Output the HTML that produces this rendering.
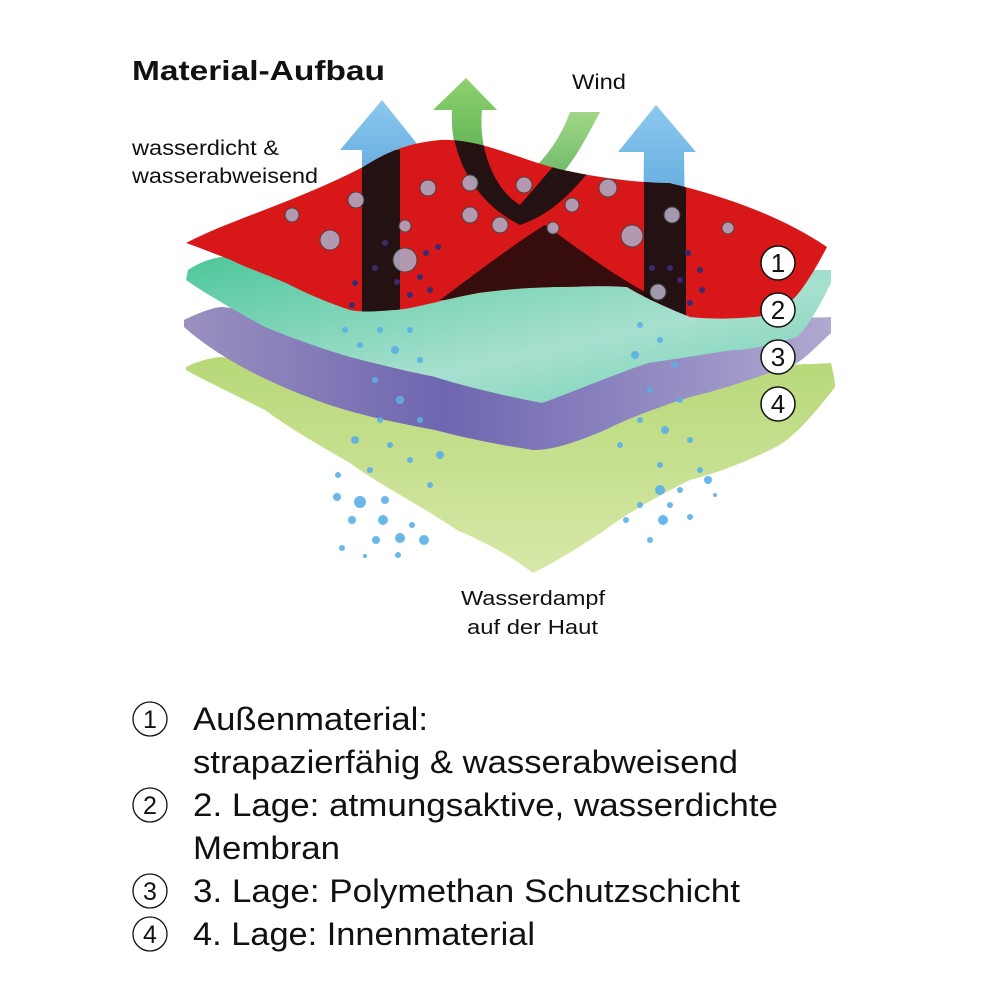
<!DOCTYPE html>
<html><head><meta charset="utf-8"><style>
body{margin:0;background:#fff;width:1000px;height:1000px;overflow:hidden;font-family:"Liberation Sans",Arial,sans-serif;}
</style></head><body>
<svg width="1000" height="1000" viewBox="0 0 1000 1000" xmlns="http://www.w3.org/2000/svg" font-family="Liberation Sans, Arial, sans-serif">
<defs>
<linearGradient id="gg" x1="0" y1="0" x2="0" y2="1"><stop offset="0" stop-color="#b8d878"/><stop offset="1" stop-color="#d6e8a8"/></linearGradient>
<linearGradient id="pg" x1="0" y1="0" x2="1" y2="0"><stop offset="0" stop-color="#9b90c0"/><stop offset="0.4" stop-color="#6e66b0"/><stop offset="1" stop-color="#b0a8d0"/></linearGradient>
<linearGradient id="tg" x1="0" y1="0" x2="1" y2="1"><stop offset="0" stop-color="#4ec79a"/><stop offset="0.6" stop-color="#a8e0d0"/><stop offset="1" stop-color="#6ad0b0"/></linearGradient>
<linearGradient id="bl" x1="0" y1="1" x2="0" y2="0"><stop offset="0" stop-color="#3a8fd0"/><stop offset="1" stop-color="#8cc8ee"/></linearGradient>
<linearGradient id="gr" x1="0" y1="1" x2="0" y2="0"><stop offset="0" stop-color="#3aa040"/><stop offset="1" stop-color="#90d070"/></linearGradient>
<clipPath id="rc"><path id="redp" d="M186,243 C230,220 300,200 363,167 C390,150 410,143 440,140 C480,138 520,160 563,170 C600,178 640,183 669,183 C720,195 780,215 827,247 C815,270 805,285 801,290 C790,305 775,315 754,317 C720,320 700,318 690,317 C660,305 640,295 627,287 C600,285 580,287 554,287 C520,288 500,290 478,293 C440,300 410,310 393,310 C370,312 360,312 350,310 C320,300 300,290 286,283 C260,272 240,265 231,260 C210,252 195,246 186,243 Z"/></clipPath>
</defs>

<text x="132" y="80" font-size="28" font-weight="bold" fill="#111" textLength="253" lengthAdjust="spacingAndGlyphs">Material-Aufbau</text>
<text x="572" y="89" font-size="21" fill="#111" textLength="54" lengthAdjust="spacingAndGlyphs">Wind</text>
<text x="132" y="155" font-size="21" fill="#111" textLength="147" lengthAdjust="spacingAndGlyphs">wasserdicht &amp;</text>
<text x="132" y="183" font-size="21" fill="#111" textLength="186" lengthAdjust="spacingAndGlyphs">wasserabweisend</text>

<!-- arrows -->
<path d="M600,112 C580,150 560,190 520,205 L505,190 C540,170 560,140 570,112 Z" fill="url(#gr)" opacity="0.85"/>
<path d="M340,150 L382,100 L422,150 L400,150 L400,260 L362,260 L362,150 Z" fill="url(#bl)"/>
<path d="M433,110 L466,78 L497,110 L482,110 C478,150 495,190 520,205 L495,215 C465,190 450,150 452,110 Z" fill="url(#gr)"/>
<path d="M618,152 L656,105 L696,152 L684,152 L686,300 L642,300 L644,152 Z" fill="url(#bl)"/>

<!-- green layer 4 -->
<path d="M186,367 C200,360 215,357 222,357 C300,370 400,365 500,362 C650,360 760,368 831,363 C833,372 835,380 835,387 C810,420 790,440 776,447 C740,465 710,475 690,480 C650,500 625,515 605,530 C575,550 550,565 533,573 C510,555 480,540 457,530 C420,505 380,485 350,463 C310,440 285,425 265,410 C225,390 200,378 186,370 Z" fill="url(#gg)"/>
<!-- purple layer 3 -->
<path d="M184,320 C200,312 215,307 222,307 C350,320 500,318 600,315 C700,312 780,320 831,317 L831,333 C815,348 805,358 797,363 C750,380 720,390 690,397 C650,410 625,420 605,430 C570,445 550,450 533,450 C500,445 465,438 435,430 C380,420 340,410 308,397 C250,375 210,350 184,327 Z" fill="url(#pg)"/>
<!-- teal layer 2 -->
<path d="M188,270 C200,262 212,258 222,257 C400,275 600,270 831,270 L831,283 C815,315 805,330 797,337 C770,345 750,350 733,350 C700,355 670,360 648,363 C600,380 565,395 542,403 C500,395 460,385 435,377 C400,370 370,362 350,357 C310,345 285,335 265,327 C225,305 200,290 186,280 Z" fill="url(#tg)"/>

<!-- red layer 1 -->
<use href="#redp" fill="#d81818"/>
<g clip-path="url(#rc)">
<path d="M362,150 L400,150 L400,320 L362,320 Z" fill="#111" opacity="0.9"/>
<path d="M644,150 L686,150 L686,320 L644,320 Z" fill="#111" opacity="0.9"/>
<path d="M452,110 L482,110 C478,150 495,190 520,205 L600,112 L610,140 C580,190 550,215 520,225 C470,200 450,150 452,110 Z" fill="#111" opacity="0.9"/>
<path d="M440,300 C480,270 520,240 545,225 C580,250 620,280 660,300 Z" fill="#1a0a0a" opacity="0.85"/>
</g>

<!-- bubbles on red -->
<g fill="#b0a8c0" stroke="#444" stroke-width="1" opacity="0.9">
<circle cx="292" cy="215" r="7"/><circle cx="330" cy="240" r="10"/><circle cx="356" cy="200" r="8"/><circle cx="405" cy="260" r="12"/><circle cx="428" cy="188" r="8"/><circle cx="470" cy="183" r="8"/><circle cx="524" cy="185" r="8"/><circle cx="470" cy="215" r="8"/><circle cx="500" cy="225" r="8"/><circle cx="572" cy="205" r="7"/><circle cx="608" cy="188" r="9"/><circle cx="632" cy="236" r="11"/><circle cx="672" cy="215" r="8"/><circle cx="728" cy="228" r="6"/><circle cx="553" cy="228" r="6"/><circle cx="405" cy="226" r="6"/><circle cx="658" cy="292" r="8"/>
</g>
<g fill="#3a2a70">
<circle cx="385" cy="243" r="3"/><circle cx="375" cy="268" r="3"/><circle cx="397" cy="282" r="3"/><circle cx="355" cy="283" r="3"/><circle cx="352" cy="305" r="3"/><circle cx="420" cy="277" r="3"/><circle cx="410" cy="295" r="3"/><circle cx="426" cy="253" r="3"/><circle cx="438" cy="247" r="3"/><circle cx="430" cy="290" r="3"/><circle cx="688" cy="253" r="3"/><circle cx="670" cy="268" r="3"/><circle cx="680" cy="280" r="3"/><circle cx="700" cy="270" r="3"/><circle cx="702" cy="290" r="3"/><circle cx="690" cy="303" r="3"/><circle cx="652" cy="268" r="3"/>
</g>
<!-- blue droplets -->
<g fill="#5ab0e8" opacity="0.9">
<circle cx="345" cy="330" r="3"/><circle cx="360" cy="345" r="3"/><circle cx="380" cy="330" r="3"/><circle cx="395" cy="350" r="4"/><circle cx="410" cy="330" r="3"/><circle cx="420" cy="360" r="3"/><circle cx="375" cy="380" r="3"/><circle cx="400" cy="400" r="4"/><circle cx="380" cy="420" r="3"/><circle cx="420" cy="420" r="3"/><circle cx="355" cy="440" r="4"/><circle cx="390" cy="445" r="3"/><circle cx="410" cy="460" r="3"/><circle cx="370" cy="470" r="3"/><circle cx="440" cy="455" r="4"/><circle cx="430" cy="485" r="3"/>
<circle cx="640" cy="325" r="3"/><circle cx="660" cy="340" r="3"/><circle cx="635" cy="355" r="4"/><circle cx="675" cy="365" r="3"/><circle cx="650" cy="390" r="3"/><circle cx="680" cy="400" r="3"/><circle cx="640" cy="420" r="3"/><circle cx="665" cy="430" r="4"/><circle cx="690" cy="440" r="3"/><circle cx="620" cy="445" r="3"/><circle cx="660" cy="465" r="3"/><circle cx="700" cy="470" r="3"/>
<circle cx="338" cy="475" r="3"/><circle cx="337" cy="497" r="4"/><circle cx="360" cy="502" r="6"/><circle cx="385" cy="500" r="4"/><circle cx="352" cy="520" r="4"/><circle cx="383" cy="520" r="5"/><circle cx="412" cy="525" r="3"/><circle cx="342" cy="548" r="3"/><circle cx="376" cy="540" r="4"/><circle cx="400" cy="538" r="5"/><circle cx="424" cy="540" r="5"/><circle cx="398" cy="555" r="3"/><circle cx="365" cy="556" r="2"/>
<circle cx="708" cy="480" r="4"/><circle cx="680" cy="490" r="3"/><circle cx="715" cy="495" r="2"/><circle cx="660" cy="490" r="5"/><circle cx="670" cy="505" r="3"/><circle cx="640" cy="505" r="3"/><circle cx="663" cy="520" r="5"/><circle cx="690" cy="517" r="3"/><circle cx="626" cy="520" r="3"/><circle cx="650" cy="540" r="3"/>
</g>

<!-- circled numbers -->
<g fill="#fff" stroke="#111" stroke-width="1.5">
<circle cx="778" cy="263" r="17"/><circle cx="778" cy="310" r="17"/><circle cx="778" cy="357" r="17"/><circle cx="778" cy="404" r="17"/>
</g>
<g font-size="26" fill="#111" text-anchor="middle">
<text x="778" y="272">1</text><text x="778" y="319">2</text><text x="778" y="366">3</text><text x="778" y="413">4</text>
</g>

<text x="461" y="605" font-size="20" fill="#111" textLength="144" lengthAdjust="spacingAndGlyphs">Wasserdampf</text>
<text x="467" y="634" font-size="20" fill="#111" textLength="131" lengthAdjust="spacingAndGlyphs">auf der Haut</text>

<!-- legend -->
<g fill="none" stroke="#111" stroke-width="1.3">
<circle cx="150" cy="719" r="17"/><circle cx="150" cy="805" r="17"/><circle cx="150" cy="891" r="17"/><circle cx="150" cy="934" r="17"/>
</g>
<g font-size="25" fill="#111" text-anchor="middle">
<text x="150" y="728">1</text><text x="150" y="814">2</text><text x="150" y="900">3</text><text x="150" y="943">4</text>
</g>
<g font-size="32" fill="#111" lengthAdjust="spacingAndGlyphs">
<text x="193" y="730" textLength="235" lengthAdjust="spacingAndGlyphs">Außenmaterial:</text>
<text x="193" y="773" textLength="545" lengthAdjust="spacingAndGlyphs">strapazierfähig &amp; wasserabweisend</text>
<text x="193" y="816" textLength="585" lengthAdjust="spacingAndGlyphs">2. Lage: atmungsaktive, wasserdichte</text>
<text x="193" y="859" textLength="147" lengthAdjust="spacingAndGlyphs">Membran</text>
<text x="193" y="902" textLength="547" lengthAdjust="spacingAndGlyphs">3. Lage: Polymethan Schutzschicht</text>
<text x="193" y="945" textLength="342" lengthAdjust="spacingAndGlyphs">4. Lage: Innenmaterial</text>
</g>
</svg>
</body></html>
